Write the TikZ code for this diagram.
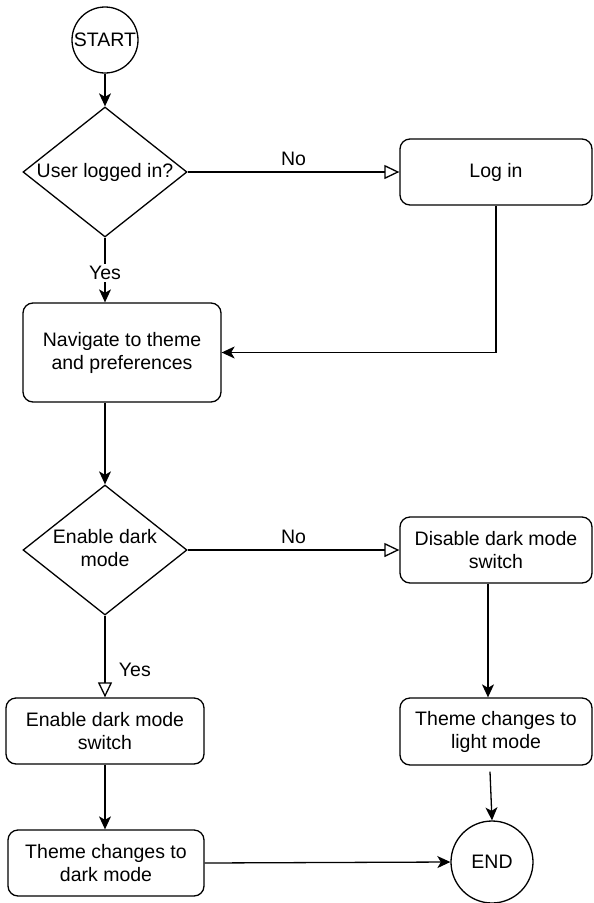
\documentclass[tikz,border=0pt]{standalone}
\usepackage{fontspec}
\setmainfont{Liberation Sans}
\usetikzlibrary{shapes.geometric,arrows.meta}
\begin{document}
\begin{tikzpicture}[x=1pt,y=-1pt,
    font=\fontsize{19.5}{23}\selectfont,
    line width=1.3pt,
    terminal/.style={draw,circle,inner sep=0pt,minimum size=#1},
    decision/.style={draw,diamond,inner sep=0pt,minimum width=164pt,minimum height=130pt},
    stepbox/.style={draw,rounded corners=10pt,align=center,inner sep=0pt,minimum width=#1},
    arr/.style={-{Stealth[length=13pt,width=12pt,inset=3.5pt]}},
    openarr/.style={-{Triangle[open,length=15pt,width=14pt]}},
    lbl/.style={fill=white,inner sep=2pt}]
  \useasboundingbox (0,0) rectangle (594,903);
  % Start and login check
  \node[terminal=66pt] (start) at (105,40) {START};
  \node[decision,label=center:{User logged in?}] (logged) at (105,172) {};
  \node[stepbox=192pt,minimum height=66pt] (login) at (496,172) {Log in};
  \node[stepbox=198pt,minimum height=99pt] (nav) at (122,352.5) {Navigate to theme\\and preferences};
  \draw[arr] (start) -- (logged);
  \draw[arr] (logged.south) -- node[lbl,pos=0.55] {Yes} (logged.south |- nav.north);
  \draw[openarr] (logged.east) -- node[above=2pt] {No} (login.west);
  \draw[arr] (login.south) |- (nav.east);
  % Dark mode choice
  \node[decision,label=center:{\begin{tabular}{@{}c@{}}Enable dark\\mode\end{tabular}}] (dark) at (105,550) {};
  \node[stepbox=192pt,minimum height=66pt] (disable) at (496,550) {Disable dark mode\\switch};
  \node[stepbox=198pt,minimum height=66pt] (enable) at (105,731) {Enable dark mode\\switch};
  \node[stepbox=192pt,minimum height=67pt] (light) at (496,731.5) {Theme changes to\\light mode};
  \node[stepbox=196pt,minimum height=66pt] (darkth) at (106,863) {Theme changes to\\dark mode};
  \node[terminal=82pt] (end) at (492,862) {END};
  \draw[arr] (nav.south -| dark.north) -- (dark.north);
  \draw[openarr] (dark.east) -- node[above=2pt] {No} (disable.west);
  \draw[openarr] (dark.south) -- node[right=10pt,pos=0.66] {Yes} (enable.north);
  \draw[arr] (disable.south -| 488,0) -- (light.north -| 488,0);
  \draw[arr] (enable) -- (darkth.north -| enable.south);
  \draw[arr] ([yshift=-6pt]light.south -| 490,0) -- (end.north);
  \draw[arr] (darkth.east) -- (end.west);
\end{tikzpicture}
\end{document}
